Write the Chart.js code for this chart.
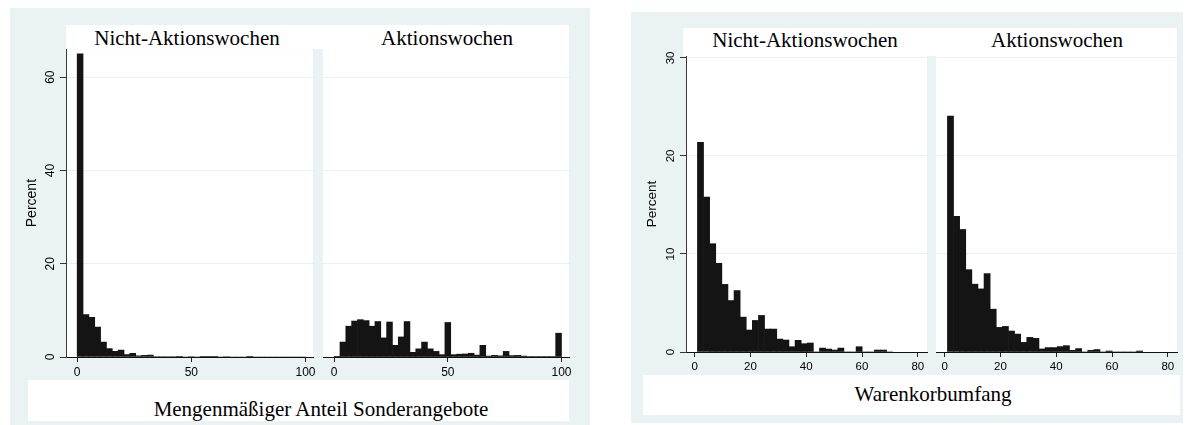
<!DOCTYPE html>
<html>
<head>
<meta charset="utf-8">
<script src="https://cdn.jsdelivr.net/npm/chart.js@4.4.1/dist/chart.umd.min.js"></script>
<style>
  body { margin: 0; width: 1190px; height: 425px; background: #fff; position: relative; overflow: hidden; }
  .bg { position: absolute; background: #eaf2f3; }
  .box { position: absolute; background: #fff; }
  .ttl { position: absolute; width: 400px; font-family: "Liberation Serif", "Times New Roman", serif; font-size: 21px; line-height: 21px; color: #000; text-align: center; white-space: nowrap; }
  canvas { position: absolute; }
</style>
</head>
<body>
<div class="bg" style="left:10px;top:8px;width:580px;height:417px"></div>
<div class="bg" style="left:631px;top:12px;width:552px;height:411px"></div>
<div class="box" style="left:66px;top:25px;width:503px;height:24px"></div>
<div class="box" style="left:683px;top:28px;width:494px;height:28px"></div>
<div class="box" style="left:28px;top:380px;width:541px;height:41px"></div>
<div class="box" style="left:643px;top:375px;width:537px;height:40px"></div>

<div class="ttl" style="left:-13px;top:28px">Nicht-Aktionswochen</div>
<div class="ttl" style="left:247px;top:28px">Aktionswochen</div>
<div class="ttl" style="left:605px;top:30px">Nicht-Aktionswochen</div>
<div class="ttl" style="left:857px;top:30px">Aktionswochen</div>
<div class="ttl" style="left:121px;top:399px">Mengenmäßiger Anteil Sonderangebote</div>
<div class="ttl" style="left:733px;top:384px">Warenkorbumfang</div>

<canvas id="mengeNicht" width="305" height="348" style="left:20px;top:39px"></canvas>
<canvas id="mengeAktion" width="258" height="348" style="left:323px;top:39px"></canvas>
<canvas id="korbNicht" width="299" height="336" style="left:640px;top:46px"></canvas>
<canvas id="korbAktion" width="253" height="336" style="left:936px;top:46px"></canvas>

<script>
// Mengenmäßiger Anteil Sonderangebote, 39 Klassen von 0 bis 100 (Percent)
const mengeNicht = [65, 9.1, 8.5, 6.4, 3.2, 1.8, 1.2, 1.5, 0.5, 0.8,
	0.25, 0.35, 0.4, 0.1, 0.1, 0.1, 0.1, 0.05, 0, 0.1,
	0, 0.08, 0.08, 0.08, 0, 0.1, 0, 0, 0, 0.12,
	0, 0, 0, 0, 0, 0, 0, 0, 0];
const mengeAktion = [0.15, 3.2, 6.6, 7.7, 8.0, 7.8, 6.6, 7.6, 4.1, 7.5,
	2.5, 4.3, 7.6, 1.0, 1.75, 3.2, 1.75, 1.2, 0.5, 7.4,
	0.5, 0.6, 0.65, 0.8, 0.4, 2.5, 0.2, 0.35, 0.25, 1.2,
	0.3, 0.35, 0.2, 0.1, 0.1, 0.1, 0.1, 0.1, 5.1];
const mengeBinStart = 0;
const mengeBinWidth = 100 / 39;
const mengeTicksX = [0, 50, 100];
const mengeTicksY = [0, 20, 40, 60];

// Warenkorbumfang, 32 Klassen von 1 bis 71 (Percent)
const korbNicht = [21.4, 15.8, 11.05, 9.05, 6.9, 5.25, 6.27, 3.56, 2.24, 3.22,
	3.73, 2.34, 2.34, 1.32, 1.22, 0.54, 1.19, 0.85, 0.92, 0,
	0.4, 0.3, 0.2, 0.4, 0, 0, 0.54, 0, 0, 0.2,
	0.2, 0];
const korbAktion = [24.07, 13.83, 12.5, 8.4, 6.92, 6.44, 8.0, 4.37, 2.51, 2.61,
	2.14, 1.83, 0.98, 1.49, 1.39, 0.31, 0.45, 0.45, 0.55, 0.65,
	0.17, 0.35, 0, 0.17, 0.25, 0, 0.1, 0, 0, 0,
	0, 0.1];
const korbBinStart = 1;
const korbBinWidth = 70 / 32;
const korbTicksX = [0, 20, 40, 60, 80];
const korbTicksY = [0, 10, 20, 30];

Chart.defaults.font.family = "Liberation Sans";
Chart.defaults.color = "#000";

// white plot region like Stata's plotregion
const plotBg = {
	id: "plotBg",
	beforeDraw(chart) {
		const a = chart.chartArea;
		const ctx = chart.ctx;
		ctx.save();
		ctx.fillStyle = "#fff";
		ctx.fillRect(a.left, a.top, a.right - a.left, a.bottom - a.top);
		ctx.restore();
	}
};

function histogram(id, values, binStart, binWidth, s) {
	const points = values.map((v, i) => ({ x: binStart + binWidth * (i + 0.5), y: v }));

	const yScale = {
		min: 0,
		max: s.yMax,
		afterBuildTicks: (sc) => { sc.ticks = s.ticksY.map((v) => ({ value: v })); },
		grid: { color: "#e8f0f2", lineWidth: 1, drawTicks: s.first, tickLength: 6, tickColor: "#333" },
		border: { display: s.first, color: "#3a3a3a", width: 1 },
		ticks: {
			display: s.first,
			autoSkip: false,
			crossAlign: "center",
			minRotation: 90,
			maxRotation: 90,
			padding: 3,
			font: { size: s.tick }
		},
		title: {
			display: s.first,
			text: "Percent",
			font: { size: s.title },
			padding: { top: 4, bottom: 4 }
		},
		afterFit: (sc) => { sc.width = s.first ? 46 : 0; }
	};

	return new Chart(document.getElementById(id), {
		type: "bar",
		data: {
			datasets: [{
				data: points,
				backgroundColor: "#141414",
				borderWidth: 0,
				barPercentage: 1,
				categoryPercentage: 1
			}]
		},
		options: {
			responsive: false,
			animation: false,
			events: [],
			layout: { padding: { top: 10, right: 12, left: 0, bottom: 0 } },
			plugins: { legend: { display: false }, tooltip: { enabled: false } },
			scales: {
				x: {
					type: "linear",
					min: s.xMin,
					max: s.xMax,
					offset: false,
					afterBuildTicks: (sc) => { sc.ticks = s.ticksX.map((v) => ({ value: v })); },
					afterFit: (sc) => { sc.height = 30; },
					grid: { drawOnChartArea: false, offset: false, tickLength: 5, tickColor: "#222" },
					border: { display: true, color: "#111", width: 1 },
					ticks: { autoSkip: false, maxRotation: 0, padding: 3, font: { size: s.tick } }
				},
				y: yScale
			}
		},
		plugins: [plotBg]
	});
}

histogram("mengeNicht", mengeNicht, mengeBinStart, mengeBinWidth,
	{ first: true, xMin: -4.9, xMax: 103.3, yMax: 66, ticksX: mengeTicksX, ticksY: mengeTicksY, tick: 12, title: 14 });
histogram("mengeAktion", mengeAktion, mengeBinStart, mengeBinWidth,
	{ first: false, xMin: -4.9, xMax: 103.3, yMax: 66, ticksX: mengeTicksX, ticksY: mengeTicksY, tick: 12, title: 14 });
histogram("korbNicht", korbNicht, korbBinStart, korbBinWidth,
	{ first: true, xMin: -3.1, xMax: 83.3, yMax: 30.2, ticksX: korbTicksX, ticksY: korbTicksY, tick: 11.5, title: 13.5 });
histogram("korbAktion", korbAktion, korbBinStart, korbBinWidth,
	{ first: false, xMin: -3.1, xMax: 83.3, yMax: 30.2, ticksX: korbTicksX, ticksY: korbTicksY, tick: 11.5, title: 13.5 });
</script>
</body>
</html>
